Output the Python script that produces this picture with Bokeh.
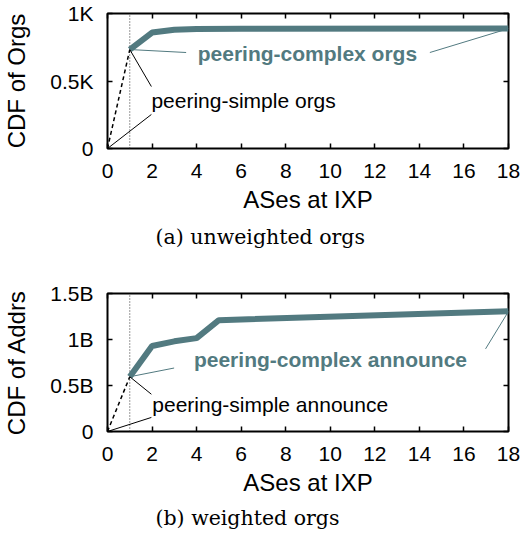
from bokeh.plotting import figure
from bokeh.models import Range1d, FixedTicker, LinearAxis, Label, Title
from bokeh.layouts import column
from bokeh.embed import file_html
from bokeh.resources import INLINE

# ---- data ----
x_ticks = [0, 2, 4, 6, 8, 10, 12, 14, 16, 18]

# (a) unweighted orgs
orgs_x = [1, 2, 3, 4, 6, 18]
orgs_complex = [733, 859, 879, 885, 887, 888]
orgs_simple_x = [0, 1]
orgs_simple = [0, 733]
orgs_y_ticks = [0, 500, 1000]
orgs_y_labels = ["0", "0.5K", "1K"]

# (b) weighted orgs
addr_x = [1, 2, 3, 4, 5, 18]
addr_complex = [0.595e9, 0.93e9, 0.98e9, 1.015e9, 1.21e9, 1.306e9]
addr_simple_x = [0, 1]
addr_simple = [0, 0.595e9]
addr_y_ticks = [0, 0.5e9, 1.0e9, 1.5e9]
addr_y_labels = ["0", "0.5B", "1B", "1.5B"]

TEAL = "#527a80"
SANS = "Liberation Sans"


def make_fig(height, top_border, bottom_border, title_standoff, ymax, yticks, ylabels, ylabel, caption):
    p = figure(width=522, height=height, output_backend="svg", toolbar_location=None,
               x_range=Range1d(0, 18), y_range=Range1d(0, ymax),
               min_border_left=103, min_border_right=14, min_border_top=top_border,
               min_border_bottom=bottom_border)
    p.grid.visible = False
    p.outline_line_color = "black"
    p.outline_line_width = 2
    p.background_fill_color = "white"
    p.border_fill_color = "white"

    xa = p.xaxis[0]
    xa.ticker = FixedTicker(ticks=x_ticks)
    ya = p.yaxis[0]
    ya.ticker = FixedTicker(ticks=yticks)
    ya.major_label_overrides = {t: l for t, l in zip(yticks, ylabels)}
    for ax in (xa, ya):
        ax.axis_line_color = None
        ax.major_tick_in = 5
        ax.major_tick_out = 0
        ax.major_tick_line_width = 1.5
        ax.minor_tick_line_color = None
        ax.major_label_text_font = SANS
        ax.major_label_text_font_size = "21px"
        ax.major_label_text_color = "black"
        ax.axis_label_text_font = SANS
        ax.axis_label_text_font_size = "24px"
        ax.axis_label_text_font_style = "normal"
        ax.axis_label_text_color = "black"
    xa.axis_label = "ASes at IXP"
    xa.major_label_standoff = 15
    xa.axis_label_standoff = 5
    ya.axis_label = ylabel
    ya.major_label_standoff = 14
    ya.axis_label_standoff = 17

    # mirrored tick marks (no labels)
    top = LinearAxis(ticker=FixedTicker(ticks=x_ticks))
    right = LinearAxis(ticker=FixedTicker(ticks=yticks))
    for ax in (top, right):
        ax.axis_line_color = None
        ax.major_tick_in = 5
        ax.major_tick_out = 0
        ax.major_tick_line_width = 1.5
        ax.minor_tick_line_color = None
        ax.major_label_text_font_size = "1px"
        ax.major_label_text_color = None
        ax.major_label_standoff = 0
    p.add_layout(top, "above")
    p.add_layout(right, "right")

    t = Title(text=caption, align="left", offset=48, text_font="DejaVu Serif",
              text_font_size="20.5px", text_font_style="normal", text_color="black",
              standoff=title_standoff)
    p.add_layout(t, "below")
    return p


# ---------- (a) ----------
p1 = make_fig(270, 13, 122, 14, 1000, orgs_y_ticks, orgs_y_labels, "CDF of Orgs", "(a) unweighted orgs")
p1.segment(x0=[1], y0=[0], x1=[1], y1=[1000], line_color="#333333", line_width=1, line_dash="1 2")
p1.line(orgs_simple_x, orgs_simple, line_color="black", line_width=1.5, line_dash="4 3")
p1.line(orgs_x, orgs_complex, line_color=TEAL, line_width=6)
# leaders
p1.segment(x0=[orgs_x[0], orgs_x[-1]], y0=[orgs_complex[0], orgs_complex[-1]],
           x1=[3.53, 14.47], y1=[711, 711], line_color=TEAL, line_width=1)
p1.segment(x0=[orgs_simple_x[-1], orgs_simple_x[0]], y0=[orgs_simple[-1], orgs_simple[0]],
           x1=[1.97, 1.97], y1=[459, 252], line_color="black", line_width=1)
p1.add_layout(Label(x=4.05, y=705, text="peering-complex orgs", text_font=SANS,
                    text_font_size="21px", text_font_style="bold", text_color=TEAL,
                    text_baseline="middle", text_align="left"))
p1.add_layout(Label(x=1.97, y=356, text="peering-simple orgs", text_font=SANS,
                    text_font_size="21px", text_color="black",
                    text_baseline="middle", text_align="left"))

# ---------- (b) ----------
p2 = make_fig(265, 23, 103, 11, 1.5e9, addr_y_ticks, addr_y_labels, "CDF of Addrs", "(b) weighted orgs")
p2.segment(x0=[1], y0=[0], x1=[1], y1=[1.5e9], line_color="#333333", line_width=1, line_dash="1 2")
p2.line(addr_simple_x, addr_simple, line_color="black", line_width=1.5, line_dash="4 3")
p2.line(addr_x, addr_complex, line_color=TEAL, line_width=6)
p2.segment(x0=[addr_x[0], addr_x[-1]], y0=[addr_complex[0], addr_complex[-1]],
           x1=[2.99, 16.97], y1=[0.69e9, 0.898e9], line_color=TEAL, line_width=1)
p2.segment(x0=[addr_simple_x[-1], addr_simple_x[0]], y0=[addr_simple[-1], addr_simple[0]],
           x1=[1.97, 1.97], y1=[0.405e9, 0.153e9], line_color="black", line_width=1)
p2.add_layout(Label(x=3.88, y=0.784e9, text="peering-complex announce", text_font=SANS,
                    text_font_size="21px", text_font_style="bold", text_color=TEAL,
                    text_baseline="middle", text_align="left"))
p2.add_layout(Label(x=2.01, y=0.291e9, text="peering-simple announce", text_font=SANS,
                    text_font_size="21px", text_color="black",
                    text_baseline="middle", text_align="left"))

layout = column(p1, p2, spacing=0)
open("out.html", "w").write(file_html(layout, INLINE))
